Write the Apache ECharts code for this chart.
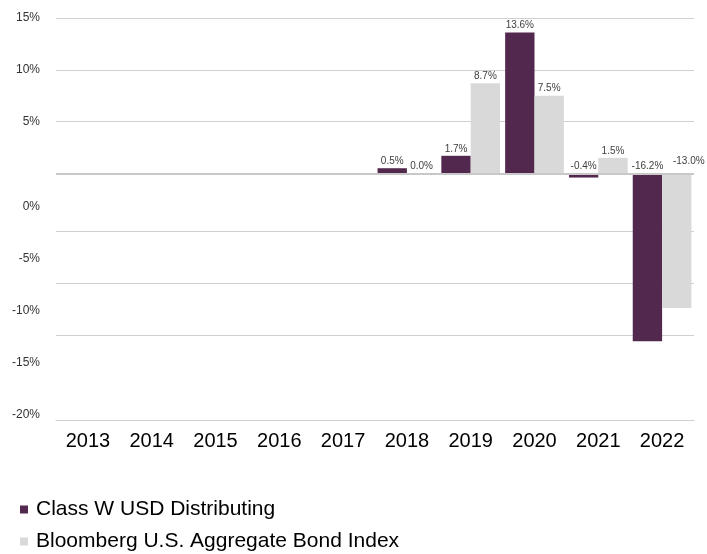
<!DOCTYPE html>
<html>
<head>
<meta charset="utf-8">
<script src="https://cdn.jsdelivr.net/npm/echarts@6/dist/echarts.min.js"></script>
<style>html,body{margin:0;padding:0;background:#fff;}#c{width:707px;height:554px;}</style>
</head>
<body>
<div id="c"></div>
<script>
const years = ['2013','2014','2015','2016','2017','2018','2019','2020','2021','2022'];
const classW = [null,null,null,null,null,0.5,1.7,13.6,-0.4,-16.2];
const bloomberg = [null,null,null,null,null,0.0,8.7,7.5,1.5,-13.0];
const seriesNames = ['Class W USD Distributing','Bloomberg U.S. Aggregate Bond Index'];
// y-axis tick labels as printed, and where they sit on the bar scale
const tickLabels = ['15%','10%','5%','0%','-5%','-10%','-15%','-20%'];
const tickLabelAt = [15,10,5,-3.24,-8.26,-13.28,-18.3,-23.3];
// horizontal gridlines as drawn
const gridAt = [15,10,5,-5.56,-10.58,-15.6];

const yMin = -23.8, yMax = 15;
const fontFam = '"Liberation Sans", Arial, sans-serif';
const chart = echarts.init(document.getElementById('c'));
const labelMap = {};
tickLabelAt.forEach((v,i)=>{ labelMap[v.toFixed(2)] = tickLabels[i]; });

const pct = p => p.value.toFixed(1) + '%';
const bloombergData = bloomberg.map((v,i)=> i === bloomberg.length-1 ? {value:v,label:{offset:[12,-5]}} : v);

chart.setOption({
  animation:false,
  textStyle:{fontFamily:fontFam},
  grid:{left:56,right:13,top:18,bottom:134},
  legend:{
    orient:'vertical', left:20, top:499, padding:0, itemWidth:8, itemHeight:8, itemGap:11,
    icon:'rect',
    textStyle:{fontSize:21,color:'#000',fontFamily:fontFam,padding:[0,0,0,3]},
    data:seriesNames
  },
  xAxis:{
    type:'category', data:years,
    axisLine:{show:true,onZero:false,lineStyle:{color:'#d0d0d0'}},
    axisTick:{show:false},
    axisLabel:{fontSize:20,color:'#000',margin:11,fontFamily:fontFam},
    splitLine:{show:false}
  },
  yAxis:[
    {type:'value',min:yMin,max:yMax,axisLabel:{show:false},axisLine:{show:false},axisTick:{show:false},splitLine:{show:false}},
    {type:'value',min:yMin,max:yMax,position:'left',axisLine:{show:false},
     axisTick:{show:false,customValues:gridAt},
     splitLine:{show:true,customValues:gridAt,lineStyle:{color:'#d0d0d0',width:1}},
     axisLabel:{show:true,customValues:tickLabelAt,fontSize:12,color:'#333',margin:16,fontFamily:fontFam,
       formatter:v=>labelMap[Number(v).toFixed(2)]||''}}
  ],
  series:[
    {name:seriesNames[0],type:'bar',yAxisIndex:0,data:classW,barGap:'0%',barCategoryGap:'8%',
     itemStyle:{color:'#52284e'},
     label:{show:true,position:'top',distance:2,fontSize:10,color:'#404040',formatter:pct},
     markLine:{silent:true,symbol:'none',label:{show:false},lineStyle:{color:'#c8c8c8',width:2,type:'solid'},data:[{yAxis:0}]}
    },
    {name:seriesNames[1],type:'bar',yAxisIndex:0,data:bloombergData,barGap:'0%',barCategoryGap:'8%',
     itemStyle:{color:'#d9d9d9'},
     label:{show:true,position:'top',distance:2,fontSize:10,color:'#404040',formatter:pct}
    }
  ]
});
</script>
</body>
</html>
